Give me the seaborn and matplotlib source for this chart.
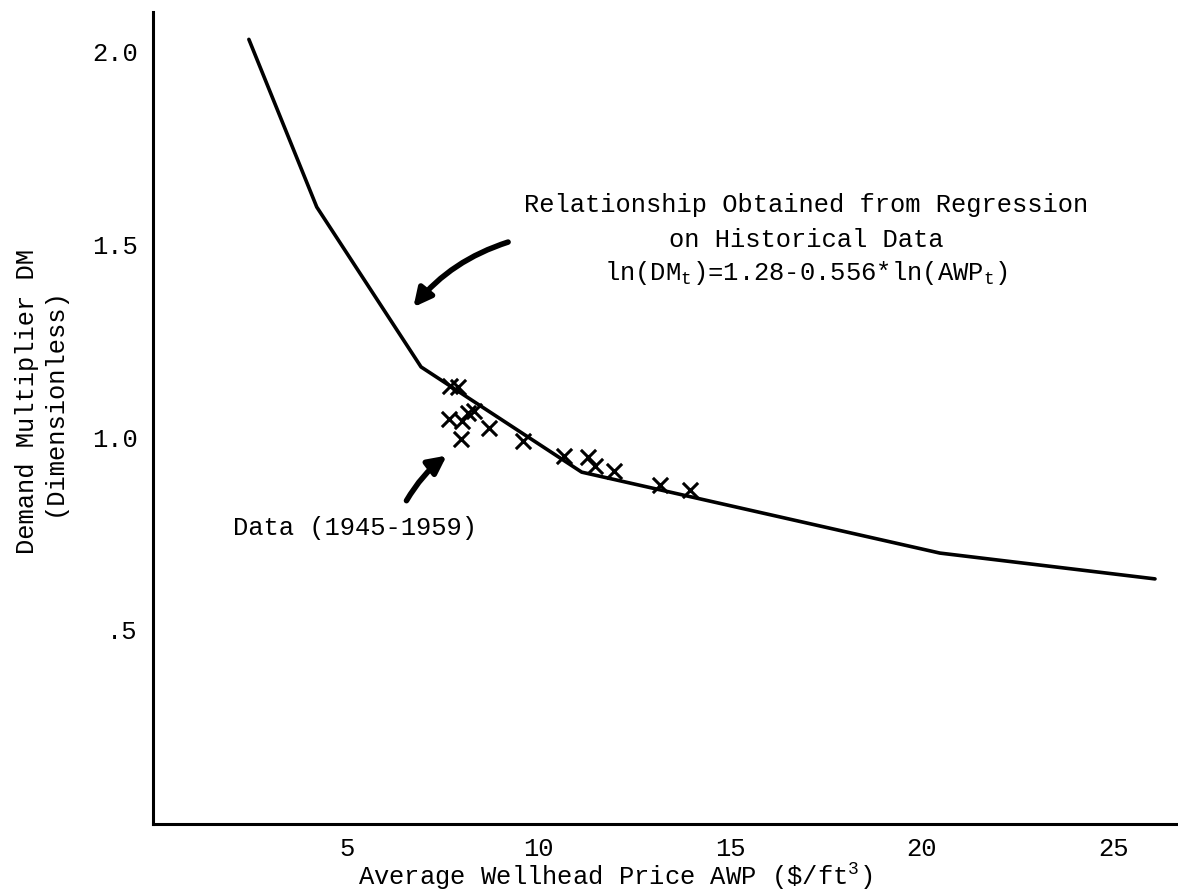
import matplotlib
matplotlib.use("Agg")
import matplotlib.pyplot as plt
import seaborn as sns
import numpy as np
import pandas as pd

# ---- data ----
price_curve = [2.45, 4.22, 6.94, 11.13, 20.47, 26.08]
dm_curve = [2.03, 1.595, 1.18, 0.907, 0.697, 0.630]

price_data = [7.69, 7.91, 7.67, 8.00, 8.17, 8.33, 7.98, 8.72, 9.59,
              10.66, 11.30, 11.47, 11.98, 13.17, 13.96]
dm_data = [1.131, 1.127, 1.045, 1.040, 1.060, 1.066, 0.993, 1.022, 0.987,
           0.950, 0.946, 0.924, 0.911, 0.874, 0.861]

x_ticks = [5, 10, 15, 20, 25]
x_tick_labels = ["5", "10", "15", "20", "25"]
y_ticks = [0.5, 1.0, 1.5, 2.0]
y_tick_labels = [".5", "1.0", "1.5", "2.0"]

sns.set_theme(style="white")
plt.rcParams["font.family"] = ["Liberation Mono", "DejaVu Sans Mono"]
plt.rcParams["mathtext.fontset"] = "custom"
plt.rcParams["mathtext.rm"] = "Liberation Mono"
plt.rcParams["mathtext.it"] = "Liberation Mono"
plt.rcParams["mathtext.bf"] = "Liberation Mono:bold"

FS = 18.4
W, H = 1178, 895
fig = plt.figure(figsize=(W / 100, H / 100), dpi=100)
fig.patch.set_facecolor("white")
ax = fig.add_axes([153 / W, 1 - 825 / H, 1025 / W, 812 / H])
ax.set_facecolor("white")

curve = pd.DataFrame({"AWP": price_curve, "DM": dm_curve})
pts = pd.DataFrame({"AWP": price_data, "DM": dm_data})

sns.lineplot(data=curve, x="AWP", y="DM", color="black", lw=2.6,
             sort=False, estimator=None, ax=ax)
sns.scatterplot(data=pts, x="AWP", y="DM", marker="x", s=120,
                color="black", linewidth=2.2, ax=ax, zorder=3)

ax.set_xlim(-0.05, 26.68)
ax.set_ylim(-0.006, 2.101)
ax.set_xticks(x_ticks)
ax.set_xticklabels(x_tick_labels)
ax.set_yticks(y_ticks)
ax.set_yticklabels(y_tick_labels)

for s in ["top", "right"]:
    ax.spines[s].set_visible(False)
for s in ["left", "bottom"]:
    ax.spines[s].set_color("black")
    ax.spines[s].set_linewidth(2.2)

ax.tick_params(axis="both", direction="in", length=7, width=2,
               colors="black", labelsize=FS)
ax.tick_params(axis="x", pad=9)
ax.tick_params(axis="y", pad=11)

ax.set_xlabel("Average Wellhead Price AWP (\\$/ft$^3$)", fontsize=FS,
              color="black", va="center")
ax.xaxis.set_label_coords(0.451, -0.064)
ax.set_ylabel("Demand Multiplier DM\n(Dimensionless)", fontsize=FS,
              color="black", va="center", linespacing=1.15)
ax.yaxis.set_label_coords(-0.110, 0.521)

# annotation text
ax.text(16.98, 1.603, "Relationship Obtained from Regression",
        ha="center", va="center", fontsize=FS, color="black")
ax.text(16.98, 1.512, "on Historical Data",
        ha="center", va="center", fontsize=FS, color="black")
ax.text(16.98, 1.426, r"ln(DM$_\mathrm{t}$)=1.28-0.556*ln(AWP$_\mathrm{t}$)",
        ha="center", va="center", fontsize=FS, color="black")
ax.text(2.03, 0.765, "Data (1945-1959)", ha="left", va="center",
        fontsize=FS, color="black")

# arrows
ax.annotate("", xy=(6.74, 1.335), xytext=(9.21, 1.504),
            arrowprops=dict(arrowstyle="-|>,head_length=0.9,head_width=0.45",
                            lw=4, color="black",
                            connectionstyle="arc3,rad=0.15",
                            shrinkA=0, shrinkB=0))
ax.annotate("", xy=(7.61, 0.950), xytext=(6.56, 0.833),
            arrowprops=dict(arrowstyle="-|>,head_length=0.9,head_width=0.45",
                            lw=4, color="black",
                            connectionstyle="arc3,rad=-0.1",
                            shrinkA=0, shrinkB=0))

fig.savefig("out.png", dpi=100, facecolor="white")
